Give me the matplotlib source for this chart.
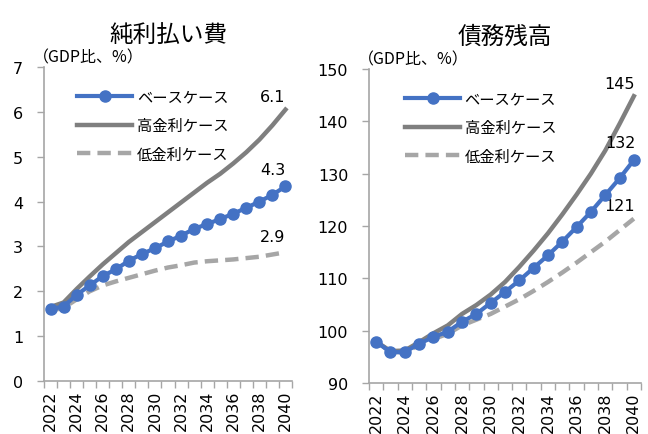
import matplotlib
matplotlib.use('Agg')
import matplotlib.pyplot as plt

plt.rcParams['font.family'] = ['DejaVu Sans', 'Noto Sans CJK JP']

years = list(range(2022, 2041))
year_labels = [str(y) if y % 2 == 0 else '' for y in years]

# 純利払い費 (GDP比, %)
int_base = [1.60, 1.66, 1.92, 2.13, 2.34, 2.49, 2.68, 2.83, 2.96, 3.11, 3.24, 3.39,
            3.50, 3.61, 3.73, 3.86, 4.00, 4.15, 4.34]
int_high = [1.65, 1.75, 2.05, 2.33, 2.60, 2.85, 3.10, 3.32, 3.54, 3.76, 3.98, 4.20,
            4.42, 4.62, 4.85, 5.10, 5.38, 5.70, 6.05]
int_low = [1.57, 1.63, 1.82, 2.00, 2.13, 2.22, 2.30, 2.38, 2.46, 2.53, 2.58, 2.64,
           2.67, 2.69, 2.71, 2.74, 2.77, 2.82, 2.87]

# 債務残高 (GDP比, %)
debt_base = [97.9, 95.9, 95.9, 97.5, 98.8, 99.8, 101.7, 103.2, 105.3, 107.4, 109.6,
             112.0, 114.4, 117.0, 119.8, 122.7, 125.9, 129.1, 132.6]
debt_high = [97.9, 96.1, 96.2, 97.8, 99.5, 101.0, 103.2, 104.9, 106.9, 109.3, 112.2,
             115.3, 118.6, 122.2, 126.0, 130.0, 134.4, 139.5, 144.8]
debt_low = [97.9, 96.0, 95.8, 97.3, 98.4, 99.4, 101.0, 102.1, 103.2, 104.6, 106.0,
            107.6, 109.3, 111.1, 113.0, 115.0, 117.0, 119.2, 121.4]

series_names = ['ベースケース', '高金利ケース', '低金利ケース']
end_labels_int = ['4.3', '6.1', '2.9']
end_labels_debt = ['132', '145', '121']

BLUE = '#4472C4'
DARK = '#7F7F7F'
LIGHT = '#A6A6A6'
JP = ['Noto Sans CJK JP', 'DejaVu Sans']

fig = plt.figure(figsize=(6.48, 4.35), dpi=100)
W, H = 648, 435


def make_ax(left, right, top, bottom):
    return fig.add_axes([left / W, 1 - bottom / H, (right - left) / W, (bottom - top) / H])


def draw_panel(ax, base, high, low, ylim, yticks, title, labels, label_offsets, label_dx, unit_x):
    x = list(range(len(years)))
    ax.plot(x, low, color=LIGHT, lw=3.2, linestyle=(0, (3, 1.6)), label=series_names[2], zorder=2)
    ax.plot(x, high, color=DARK, lw=3.2, label=series_names[1], zorder=3)
    ax.plot(x, base, color=BLUE, lw=3.0, marker='o', ms=8, label=series_names[0], zorder=4)

    ax.set_xlim(-0.5, len(years) - 0.5)
    ax.set_ylim(*ylim)
    ax.set_yticks(yticks)
    ax.set_xticks([i - 0.5 for i in range(len(years) + 1)])
    ax.set_xticklabels([])
    ax.set_xticks(x, minor=True)
    ax.set_xticklabels(year_labels, minor=True, rotation=90, fontsize=11.5)
    ax.tick_params(axis='x', which='minor', length=0, pad=6)
    ax.tick_params(axis='x', which='major', length=5, color='#A6A6A6', width=1)
    ax.tick_params(axis='y', length=5, color='#A6A6A6', width=1, labelsize=11.5, pad=10)
    for s in ['top', 'right']:
        ax.spines[s].set_visible(False)
    for s in ['left', 'bottom']:
        ax.spines[s].set_color('#A6A6A6')
        ax.spines[s].set_linewidth(1.2)

    ax.set_title(title, family=JP, fontsize=17, pad=19)
    ax.text(unit_x, 1.005, '（GDP比、%）', transform=ax.transAxes, family=JP,
            fontsize=11.5, ha='left', va='bottom')

    last = len(years) - 1
    for val, lab, off in zip([base[-1], high[-1], low[-1]], labels, label_offsets):
        ax.annotate(lab, (last, val), xytext=(label_dx, off), textcoords='offset points',
                    ha='center', va='bottom', fontsize=11.5)

    handles, names = ax.get_legend_handles_labels()
    order = [2, 1, 0]
    leg = ax.legend([handles[i] for i in order], [names[i] for i in order],
                    loc='upper left', bbox_to_anchor=(0.11, 0.95), frameon=False,
                    prop={'family': JP, 'size': 11}, handlelength=3.6,
                    handletextpad=0.3, labelspacing=0.75, borderaxespad=0)
    return leg


ax1 = make_ax(44, 292, 68, 382)
draw_panel(ax1, int_base, int_high, int_low, (0, 7), range(0, 8), '純利払い費',
           end_labels_int, [7, 4, 6], -9, -0.045)

ax2 = make_ax(369, 641, 70, 384)
draw_panel(ax2, debt_base, debt_high, debt_low, (90, 150), range(90, 151, 10), '債務残高',
           end_labels_debt, [7, 4, 4], -10, -0.04)

fig.savefig('out.png', dpi=100)
